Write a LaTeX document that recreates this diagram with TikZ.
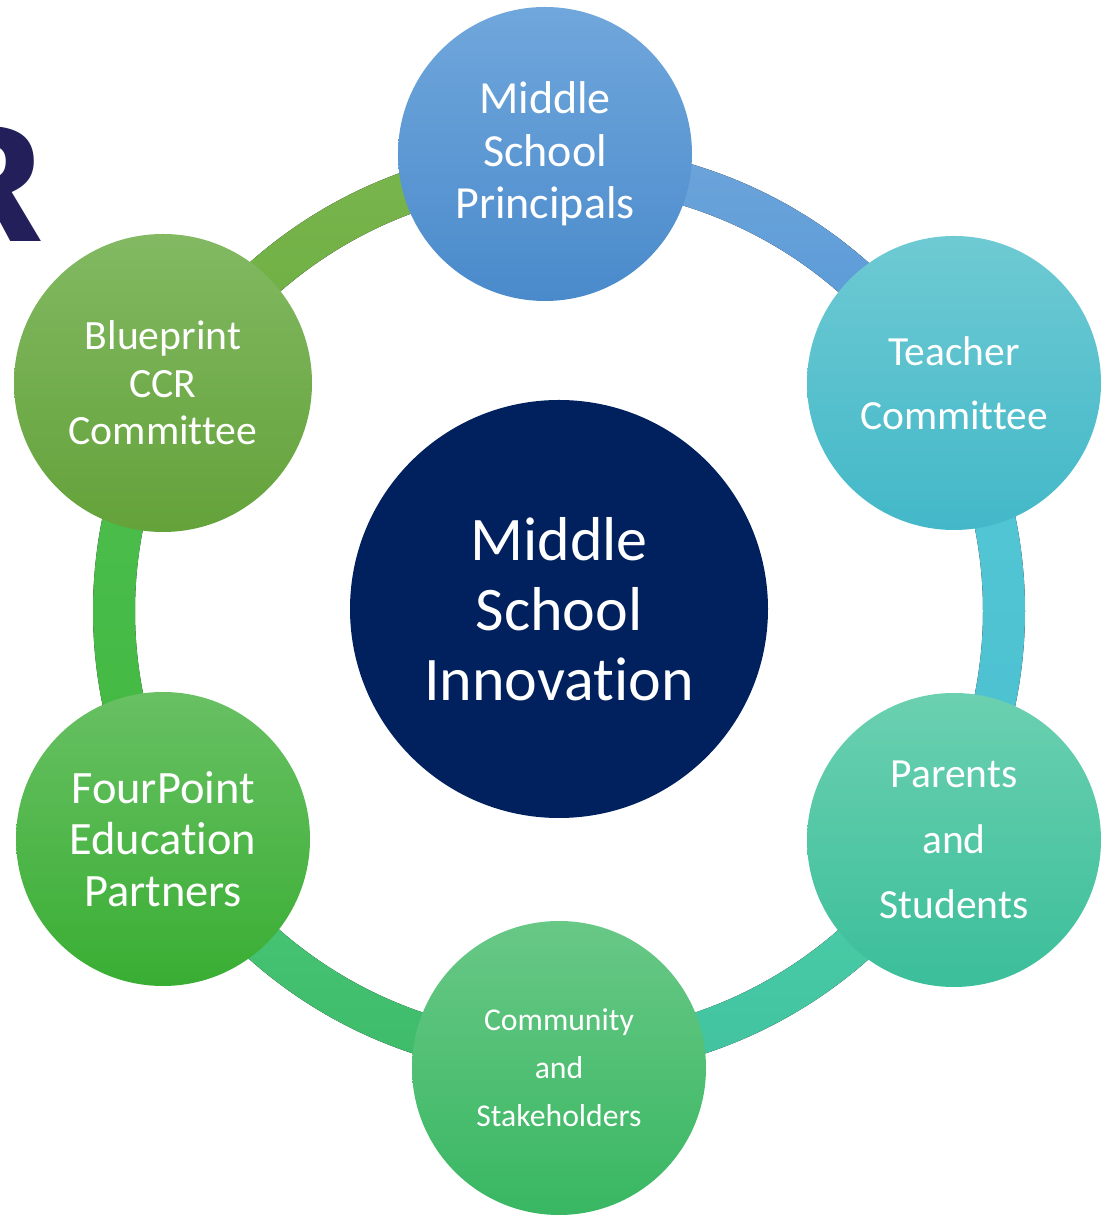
\documentclass[tikz,border=0pt]{standalone}
\usepackage{fontspec}
\setmainfont{Carlito}[Ligatures={NoCommon}]
\newfontfamily\logofont{Fira Sans}
\usetikzlibrary{calc}
\definecolor{navy}{HTML}{00205E}
\definecolor{logo}{HTML}{231F5A}
\definecolor{rA1}{HTML}{7AB54E}\definecolor{rA2}{HTML}{6AAE3F}
\definecolor{rB1}{HTML}{6DA4DA}\definecolor{rB2}{HTML}{5297D7}
\definecolor{rC1}{HTML}{55C8D6}\definecolor{rC2}{HTML}{4ABFCF}
\definecolor{rD1}{HTML}{4CD0AA}\definecolor{rD2}{HTML}{42C29F}
\definecolor{rE1}{HTML}{4BC879}\definecolor{rE2}{HTML}{3DBB69}
\definecolor{rF1}{HTML}{4EBF4E}\definecolor{rF2}{HTML}{40B740}
\definecolor{pr1}{HTML}{70A7DC}\definecolor{pr2}{HTML}{4A8ACB}
\definecolor{te1}{HTML}{6ECAD3}\definecolor{te2}{HTML}{43B8C8}
\definecolor{pa1}{HTML}{6BD0B0}\definecolor{pa2}{HTML}{3BBE9A}
\definecolor{co1}{HTML}{68C886}\definecolor{co2}{HTML}{39B762}
\definecolor{fo1}{HTML}{68C063}\definecolor{fo2}{HTML}{39AE33}
\definecolor{bl1}{HTML}{82B962}\definecolor{bl2}{HTML}{64A23A}
\newcommand\ringseg[4]{%
  \fill[top color=#3,bottom color=#4]
    ($(c)+(#1:466)$) arc[start angle=#1,end angle=#2,radius=466]
    -- ($(c)+(#2:424)$) arc[start angle=#2,end angle=#1,radius=424] -- cycle;}
\begin{document}
\begin{tikzpicture}[x=1pt,y=1pt,
  sat/.style={circle, inner sep=0pt, text=white, align=center, minimum size=294},
  hub/.style={circle, inner sep=0pt, text=white, align=center, fill=navy, minimum size=418}]
\useasboundingbox (0,0) rectangle (1101,1218);
\clip (0,0) rectangle (1101,1218);
\coordinate (c) at (559,607);
% partial logo letter
\node[anchor=south east, inner sep=0pt, text=logo, font=\logofont\bfseries\fontsize{166}{166}\selectfont] (logoR) at (41,976) {R};
% ring segments
\ringseg{150}{90}{rA1}{rA2}
\ringseg{90}{30}{rB1}{rB2}
\ringseg{30}{-30}{rC1}{rC2}
\ringseg{-30}{-90}{rD1}{rD2}
\ringseg{-90}{-150}{rE1}{rE2}
\ringseg{-150}{-210}{rF1}{rF2}
% hub
\node[hub, font=\fontsize{62}{70}\selectfont] (hub) at (559,609) {Middle\\School\\Innovation};
% satellites
\node[sat, top color=pr1, bottom color=pr2, font=\fontsize{46}{52.5}\selectfont] (principals) at (545,1064) {Middle\\School\\Principals};
\node[sat, top color=te1, bottom color=te2, font=\fontsize{41.5}{64}\selectfont] (teacher) at (954,835) {Teacher\\Committee};
\node[sat, top color=pa1, bottom color=pa2, font=\fontsize{41.5}{65.5}\selectfont] (parents) at (954,378) {Parents\\and\\Students};
\node[sat, top color=co1, bottom color=co2, font=\fontsize{31.7}{48}\selectfont] (community) at (559,150) {Community\\and\\Stakeholders};
\node[sat, top color=fo1, bottom color=fo2, font=\fontsize{46.4}{51.5}\selectfont] (fourpoint) at (163,379) {FourPoint\\Education\\Partners};
\node[sat, minimum size=298, top color=bl1, bottom color=bl2, font=\fontsize{41.7}{47.5}\selectfont] (blueprint) at (163,835) {Blueprint\\CCR\\Committee};
\end{tikzpicture}
\end{document}
